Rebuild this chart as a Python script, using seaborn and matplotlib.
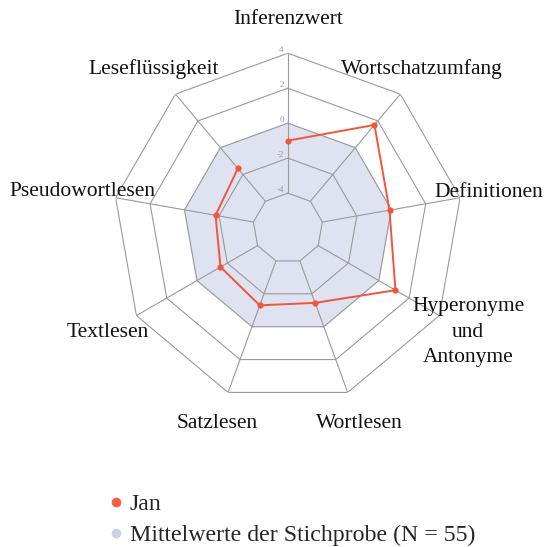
import numpy as np
import matplotlib
matplotlib.use("Agg")
import matplotlib.pyplot as plt
from matplotlib.lines import Line2D
import seaborn as sns

# Daten
kategorien = ['Inferenzwert', 'Wortschatzumfang', 'Definitionen', 'Hyperonyme\nund\nAntonyme',
              'Wortlesen', 'Satzlesen', 'Textlesen', 'Pseudowortlesen', 'Leseflüssigkeit']
jan = [-1.0, 1.7, -0.1, 1.1, -1.45, -1.3, -1.55, -1.8, -1.55]
mittelwerte = [0, 0, 0, 0, 0, 0, 0, 0, 0]
ringe = [-4, -2, 0, 2, 4]
ring_labels = ['-4', '-2', '0', '2', '4']


def main():
    sns.set_style('white')
    plt.rcParams['font.family'] = ['Liberation Serif', 'DejaVu Serif']

    n = len(kategorien)
    winkel = np.linspace(0, 2 * np.pi, n, endpoint=False)
    winkel_zu = np.append(winkel, winkel[0])

    fig = plt.figure(figsize=(5.44, 5.47), dpi=100)
    ax = fig.add_axes([0.2077, 0.263, 0.643, 0.640], projection='polar')
    ax.set_theta_zero_location('N')
    ax.set_theta_direction(-1)
    ax.set_ylim(-6, 4)
    ax.grid(False)
    ax.spines['polar'].set_visible(False)
    ax.set_xticks([])
    ax.set_yticks([])
    ax.patch.set_alpha(0)

    # Mittelwerte als Fläche
    ax.fill(winkel_zu, mittelwerte + mittelwerte[:1], color='#dfe2f1', zorder=1)

    # Polygon-Gitter
    for r in ringe:
        ax.plot(winkel_zu, [r] * (n + 1), color='#9a9a9a', lw=0.8, zorder=2)
    for w in winkel:
        ax.plot([w, w], [ringe[0], ringe[-1]], color='#9a9a9a', lw=0.8, zorder=2)

    for r, lab in zip(ringe, ring_labels):
        ax.annotate(lab, xy=(0, r), xytext=(-3, 2), textcoords='offset points',
                    ha='right', va='center', fontsize=6.5, color='#9a9a9a', zorder=3)

    # Jan
    sns.lineplot(x=winkel_zu, y=jan + jan[:1], sort=False, ax=ax, color='#f1553a',
                 lw=1.4, marker='o', markersize=4.5, markeredgewidth=0, zorder=4)

    # Achsenbeschriftungen (Definitionen etwas nach innen, damit es nicht abgeschnitten wird)
    for w, lab in zip(winkel, kategorien):
        r_lab = 5.68 if lab == 'Definitionen' else 5.9
        ax.text(w, r_lab, lab, ha='center', va='center', fontsize=15.5, color='#111111',
                linespacing=1.45)

    handles = [
        Line2D([], [], ls='none', marker='o', markersize=7, color='#f9603f', markeredgewidth=0),
        Line2D([], [], ls='none', marker='o', markersize=7, color='#ccd2e8', markeredgewidth=0),
    ]
    fig.legend(handles, ['Jan', 'Mittelwerte der Stichprobe (N = 55)'], loc='upper left',
               bbox_to_anchor=(0.178, 0.115), frameon=False, fontsize=17.2,
               handletextpad=0.18, labelspacing=0.38, handlelength=0.8, borderaxespad=0)

    fig.savefig('out.png', dpi=100)


if __name__ == '__main__':
    main()
